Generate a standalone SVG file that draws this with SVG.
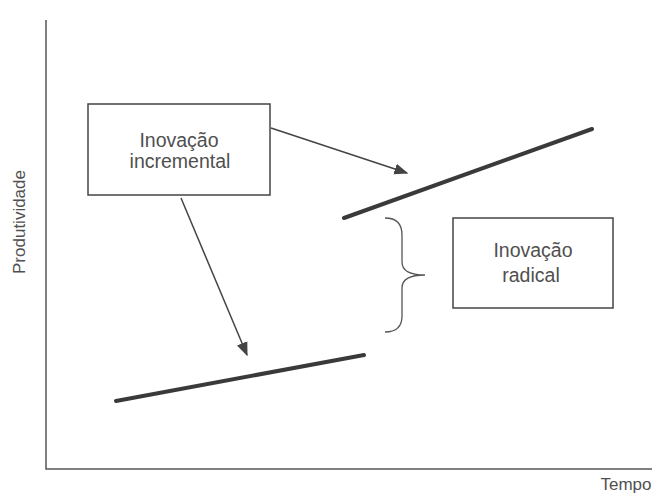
<svg xmlns="http://www.w3.org/2000/svg" width="658" height="495" viewBox="0 0 658 495">
<style>
.box{fill:#fff;stroke:#444;stroke-width:1.5}
.t{font-family:"Liberation Sans",Arial,sans-serif;font-size:19.5px;fill:#505050;text-anchor:middle}
.ax{stroke:#555;stroke-width:1.5;fill:none}
.thick{stroke:#3a3a3a;stroke-width:4;stroke-linecap:round;fill:none}
</style>
<defs>
<marker id="ah2" viewBox="0 0 10 10" refX="9" refY="5" markerWidth="14" markerHeight="14" markerUnits="userSpaceOnUse" orient="auto">
<path d="M0,1 L10,5 L0,9 z" fill="#444"/>
</marker>
</defs>
<rect width="658" height="495" fill="#fff"/>
<g id="axes">
<path class="ax" d="M46,20 L46,469 L652,469"/>
<text class="t" x="626" y="490" style="font-size:17px">Tempo</text>
<text class="t" x="0" y="0" transform="translate(25,222) rotate(-90)" style="font-size:17px">Produtividade</text>
</g>
<g id="connectors">
<line class="thick" x1="116" y1="401" x2="364" y2="355"/>
<line class="thick" x1="344" y1="218" x2="592" y2="129"/>
<line x1="271" y1="128" x2="407" y2="173" stroke="#444" stroke-width="1.5" marker-end="url(#ah2)"/>
<line x1="181" y1="198" x2="247" y2="355" stroke="#444" stroke-width="1.5" marker-end="url(#ah2)"/>
<path d="M385,218 Q402,218 402,235 L402,262 Q402,275 425,275 Q402,275 402,288 L402,316 Q402,332 385,332" fill="none" stroke="#555" stroke-width="1.3"/>
</g>
<g id="incremental">
<rect class="box" x="88" y="104" width="182" height="91"/>
<text class="t" x="179" y="147">Inovação</text>
<text class="t" x="180" y="168">incremental</text>
</g>
<g id="radical">
<rect class="box" x="453" y="218" width="160" height="90"/>
<text class="t" x="533" y="257">Inovação</text>
<text class="t" x="531" y="282">radical</text>
</g>
</svg>
